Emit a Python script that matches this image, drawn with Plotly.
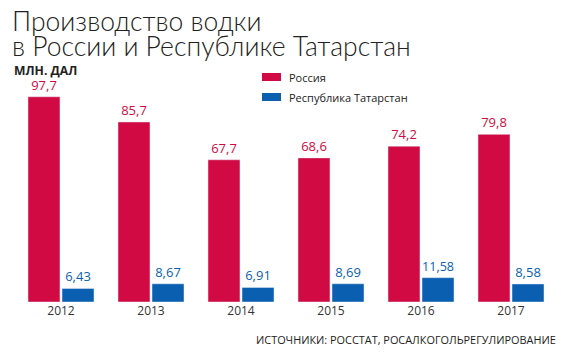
import plotly.graph_objects as go

years = ["2012", "2013", "2014", "2015", "2016", "2017"]
russia = [97.7, 85.7, 67.7, 68.6, 74.2, 79.8]
tatarstan = [6.43, 8.67, 6.91, 8.69, 11.58, 8.58]
russia_labels = ["97,7", "85,7", "67,7", "68,6", "74,2", "79,8"]
tatarstan_labels = ["6,43", "8,67", "6,91", "8,69", "11,58", "8,58"]

RED = "#d10a43"
BLUE = "#0a5fb0"
W, H = 570, 357

fig = go.Figure()
fig.add_trace(go.Bar(x=years, y=russia, name="Россия", marker_color=RED,
                     text=russia_labels, textposition="outside",
                     textfont=dict(color=RED, size=13), cliponaxis=False))
fig.add_trace(go.Bar(x=years, y=tatarstan, name="Республика Татарстан", marker_color=BLUE,
                     text=tatarstan_labels, textposition="outside",
                     textfont=dict(color=BLUE, size=13), cliponaxis=False))

ml, mr, mt, mb = 16, 14, 60, 55
pw = W - ml - mr
ph = H - mt - mb

fig.update_layout(
    width=W, height=H,
    margin=dict(l=ml, r=mr, t=mt, b=mb),
    paper_bgcolor="white", plot_bgcolor="white",
    font=dict(family="Open Sans, Noto Sans, sans-serif", color="#222"),
    barmode="group", bargap=0.244, bargroupgap=0.06,
    showlegend=False,
    xaxis=dict(showgrid=False, showline=False, zeroline=False, ticks="",
               tickfont=dict(size=12, color="#333")),
    yaxis=dict(range=[0, 115.2], visible=False),
)


def ann(text, x, y, xanchor, size, family=None, weight=None):
    f = dict(size=size, color="#222")
    if family:
        f["family"] = family
    if weight:
        f["weight"] = weight
    return dict(text=text, xref="paper", yref="paper",
                x=(x - ml) / pw, y=1 - (y - mt) / ph,
                xanchor=xanchor, yanchor="middle", showarrow=False, font=f)


TF = "Lato, Open Sans, sans-serif"
annotations = [
    ann("Производство водки", 10, 20.5, "left", 26.5, TF, 300),
    ann("в России и Республике Татарстан", 10, 46.5, "left", 26.5, TF, 300),
    ann("<b>МЛН. ДАЛ</b>", 12, 70.5, "left", 12.2),
    ann("Россия", 287, 77, "left", 11),
    ann("Республика Татарстан", 287, 97, "left", 11),
    ann("ИСТОЧНИКИ: РОССТАТ, РОСАЛКОГОЛЬРЕГУЛИРОВАНИЕ", 558, 339, "right", 10.9),
]
fig.update_layout(annotations=annotations)


def rect(x0, y0, x1, y1, color):
    return dict(type="rect", xref="paper", yref="paper",
                x0=(x0 - ml) / pw, x1=(x1 - ml) / pw,
                y0=1 - (y0 - mt) / ph, y1=1 - (y1 - mt) / ph,
                fillcolor=color, line=dict(width=0))


fig.update_layout(shapes=[rect(262, 73, 281, 81, RED), rect(262, 93, 281, 101, BLUE)])

fig.write_html("out.html", config={"displayModeBar": False},
               post_script="document.body.style.margin='0';")
